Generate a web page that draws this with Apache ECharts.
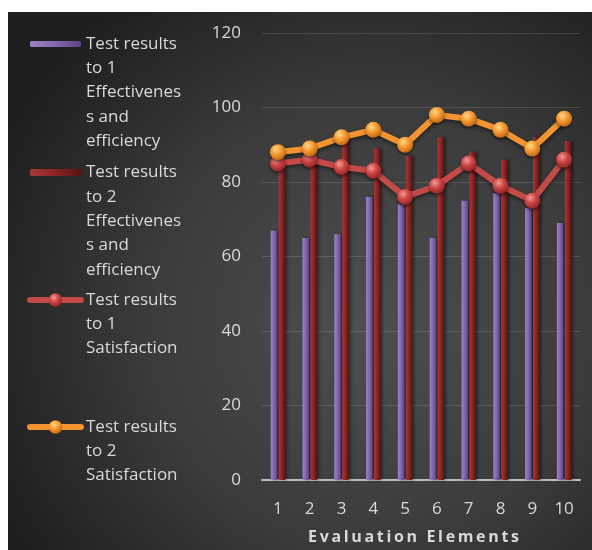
<!DOCTYPE html>
<html>
<head>
<meta charset="utf-8">
<script src="https://cdn.jsdelivr.net/npm/echarts@6/dist/echarts.min.js"></script>
<style>
  html, body { margin: 0; padding: 0; background: #ffffff; }
  #chart { width: 592px; height: 550px; }
</style>
</head>
<body>
<div id="chart"></div>
<script>
// Evaluation elements on the x axis
const categories = ['1', '2', '3', '4', '5', '6', '7', '8', '9', '10'];

// Bar series: effectiveness and efficiency
const effectiveness1 = [67, 65, 66, 76, 74, 65, 75, 77, 73, 69];
const effectiveness2 = [86, 87, 91, 89, 87, 92, 88, 86, 92, 91];

// Line series: satisfaction
const satisfaction1 = [85, 86, 84, 83, 76, 79, 85, 79, 75, 86];
const satisfaction2 = [88, 89, 92, 94, 90, 98, 97, 94, 89, 97];

// Value axis ticks
const yTicks = [0, 20, 40, 60, 80, 100, 120];

const seriesNames = [
  'Test results to 1 Effectiveness and efficiency',
  'Test results to 2 Effectiveness and efficiency',
  'Test results to 1 Satisfaction',
  'Test results to 2 Satisfaction'
];
// Wrapped legend text, one entry per series
const legendLines = [
  ['Test results', 'to 1', 'Effectivenes', 's and', 'efficiency'],
  ['Test results', 'to 2', 'Effectivenes', 's and', 'efficiency'],
  ['Test results', 'to 1', 'Satisfaction'],
  ['Test results', 'to 2', 'Satisfaction']
];
const xAxisTitle = 'Evaluation Elements';

const FONT = '"Open Sans", "Liberation Sans", sans-serif';
const TEXT = '#d9d9d9';
const LH = 24.3;

const chart = echarts.init(document.getElementById('chart'), null, { renderer: 'canvas' });

function hGrad(stops) {
  return new echarts.graphic.LinearGradient(0, 0, 1, 0,
    stops.map((c, i) => ({ offset: i / (stops.length - 1), color: c })));
}
function sphere(light, mid, dark) {
  return new echarts.graphic.RadialGradient(0.38, 0.32, 0.75, [
    { offset: 0, color: light },
    { offset: 0.45, color: mid },
    { offset: 1, color: dark }
  ]);
}

const purpleFill = hGrad(['#9e83c6', '#8266ae', '#5d4385']);
const maroonFill = hGrad(['#a43a38', '#8a2424', '#5a1212']);
const redBall = sphere('#f49a96', '#cc4644', '#8a1f1f');
const orangeBall = sphere('#ffd98a', '#f59a32', '#b8620e');

// Legend text is vertically centred on its icon, so blank lines are put
// above the wrapped label to bring its first line level with the icon.
function legendFor(idx, left, firstLineY, itemH, extra) {
  const lines = legendLines[idx];
  const n = lines.length;
  return Object.assign({
    show: true,
    orient: 'vertical',
    left: left,
    top: firstLineY - (n - 1) * LH - LH / 2,
    padding: 0,
    itemWidth: 51,
    itemHeight: itemH,
    itemGap: 0,
    selectedMode: false,
    data: [seriesNames[idx]],
    formatter: () => '\n'.repeat(n - 1) + lines.join('\n'),
    textStyle: {
      color: TEXT,
      fontFamily: FONT,
      fontSize: 17,
      lineHeight: LH
    }
  }, extra || {});
}

const xTitleSpaced = xAxisTitle.split('').join('\u2009');

const option = {
  backgroundColor: '#ffffff',
  animation: false,
  graphic: [{
    type: 'rect',
    z: -10,
    silent: true,
    shape: { x: 8, y: 12, width: 584, height: 538 },
    style: {
      fill: new echarts.graphic.RadialGradient(0.62, 0.58, 0.75, [
        { offset: 0, color: '#4f4f4f' },
        { offset: 0.55, color: '#3b3b3b' },
        { offset: 1, color: '#1f1f1f' }
      ])
    }
  }],
  legend: [
    legendFor(0, 30, 44, 6),
    legendFor(1, 30, 172.5, 7),
    legendFor(2, 27, 300, 17, { lineStyle: { width: 6, cap: 'round' } }),
    legendFor(3, 27, 427, 17, { lineStyle: { width: 6, cap: 'round' } })
  ],
  grid: { left: 262, right: 12, top: 33, bottom: 70, containLabel: false },
  xAxis: {
    type: 'category',
    data: categories,
    axisTick: { show: false },
    axisLine: { show: true, lineStyle: { color: '#bdbdbd', width: 2 } },
    axisLabel: { color: TEXT, fontFamily: FONT, fontSize: 17, lineHeight: 20, margin: 19 },
    name: xTitleSpaced,
    nameLocation: 'middle',
    nameGap: 46,
    nameTextStyle: {
      color: TEXT, fontFamily: FONT, fontSize: 16, fontWeight: 'bold',
      padding: [3, 15, 0, 0]
    }
  },
  yAxis: {
    type: 'value',
    min: yTicks[0],
    max: yTicks[yTicks.length - 1],
    interval: yTicks[1] - yTicks[0],
    axisLine: { show: false },
    axisTick: { show: false },
    axisLabel: { color: TEXT, fontFamily: FONT, fontSize: 17, margin: 21 },
    splitLine: { lineStyle: { color: 'rgba(255,255,255,0.13)', width: 1 } }
  },
  series: [
    {
      name: seriesNames[0],
      type: 'bar',
      data: effectiveness1,
      barWidth: 6.5,
      barGap: '22%',
      itemStyle: {
        color: purpleFill,
        shadowColor: 'rgba(0,0,0,0.45)', shadowBlur: 3, shadowOffsetX: 2
      }
    },
    {
      name: seriesNames[1],
      type: 'bar',
      data: effectiveness2,
      barWidth: 6.5,
      itemStyle: {
        color: maroonFill,
        shadowColor: 'rgba(0,0,0,0.45)', shadowBlur: 3, shadowOffsetX: 2
      }
    },
    {
      name: seriesNames[2],
      type: 'line',
      data: satisfaction1,
      z: 5,
      symbol: 'circle',
      symbolSize: 16,
      lineStyle: { color: '#c44a48', width: 6, shadowColor: 'rgba(0,0,0,0.5)', shadowBlur: 4, shadowOffsetY: 2 },
      itemStyle: { color: redBall, shadowColor: 'rgba(0,0,0,0.5)', shadowBlur: 3, shadowOffsetY: 2 }
    },
    {
      name: seriesNames[3],
      type: 'line',
      data: satisfaction2,
      z: 6,
      symbol: 'circle',
      symbolSize: 16,
      lineStyle: { color: '#f39430', width: 6, shadowColor: 'rgba(0,0,0,0.5)', shadowBlur: 4, shadowOffsetY: 2 },
      itemStyle: { color: orangeBall, shadowColor: 'rgba(0,0,0,0.5)', shadowBlur: 3, shadowOffsetY: 2 }
    }
  ]
};

chart.setOption(option);
</script>
</body>
</html>
